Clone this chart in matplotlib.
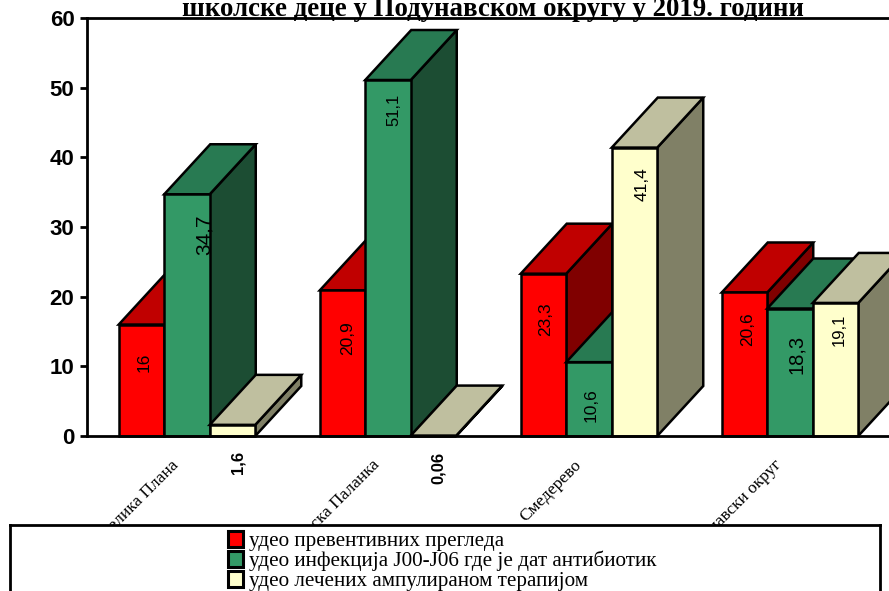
import matplotlib
matplotlib.use("Agg")
import matplotlib.pyplot as plt
from matplotlib.patches import Polygon, Patch
from matplotlib.transforms import ScaledTranslation

categories = ["Велика Плана", "Смедеревска Паланка", "Смедерево", "Подунавски округ"]
series_names = ["удео превентивних прегледа",
                "удео инфекција J00-J06 где је дат антибиотик",
                "удео лечених ампулираном терапијом"]
preventive = [16, 20.9, 23.3, 20.6]
infection = [34.7, 51.1, 10.6, 18.3]
ampoule = [1.6, 0.06, 41.4, 19.1]
value_labels = [["16", "20,9", "23,3", "20,6"],
                ["34,7", "51,1", "10,6", "18,3"],
                ["1,6", "0,06", "41,4", "19,1"]]
yticks = [0, 10, 20, 30, 40, 50, 60]
title = "школске деце у Подунавском округу у 2019. години"

W, H = 889, 591
FRONT = ["#ff0000", "#339966", "#ffffcc"]
TOP = ["#c00000", "#287a52", "#bfbf9f"]
SIDE = ["#800000", "#1c4d33", "#808066"]
LABEL_DROP = [[38, 48, 46, 37], [40, 30, 43, 46], [26, 32, 37, 27]]
LABEL_SHIFT = [[3, 5, 2, 3], [17, 6, 2, 7], [5, 4, 8, 4]]
LABEL_SIZE = [[12.5, 12.5, 12.5, 12.5], [15, 12, 12.5, 14.5], [12, 12, 12.5, 12]]

fig = plt.figure(figsize=(W / 100, H / 100), dpi=100, facecolor="white")
ax = fig.add_axes([87 / W, 1 - 436 / H, (W - 87) / W, (436 - 18) / H])
gp = 201.0
ax.set_xlim((87 - 187) / gp, (889 - 187) / gp)
ax.set_ylim(0, 60)
ppy = 418 / 60
bw, dx, dy = 45.5 / gp, 46 / gp, 50 / ppy

series = [preventive, infection, ampoule]
for g in range(len(categories)):
    for s, vals in enumerate(series):
        v = vals[g]
        x0 = g + (s - 1.5) * bw
        x1 = x0 + bw
        st = dict(edgecolor="black", linewidth=1.8, joinstyle="miter", clip_on=False, zorder=3)
        ax.add_patch(Polygon([(x1, 0), (x1 + dx, dy), (x1 + dx, v + dy), (x1, v)], facecolor=SIDE[s], **st))
        ax.add_patch(Polygon([(x0, v), (x0 + dx, v + dy), (x1 + dx, v + dy), (x1, v)], facecolor=TOP[s], **st))
        ax.add_patch(Polygon([(x0, 0), (x1, 0), (x1, v), (x0, v)], facecolor=FRONT[s], **st))
        is_small = s == 2 and g < 2
        ax.annotate(value_labels[s][g], (x0 + bw / 2 + (bw if is_small else 0), 0 if is_small else v),
                    xytext=(LABEL_SHIFT[s][g] - (45 if is_small else 0), -LABEL_DROP[s][g]),
                    textcoords="offset pixels",
                    rotation=90, ha="center", va="center", family="Liberation Sans",
                    fontsize=LABEL_SIZE[s][g], fontweight="bold" if is_small else "normal",
                    annotation_clip=False, zorder=4)

for name in ["top", "left", "bottom"]:
    ax.spines[name].set_linewidth(2)
ax.spines["right"].set_visible(False)
ax.set_axisbelow(False)
ax.set_yticks(yticks)
ax.set_yticklabels([str(t) for t in yticks], family="Liberation Sans", fontsize=16, fontweight="bold")
ax.tick_params(axis="y", length=5, width=2, pad=4)
ax.set_xticks(range(len(categories)))
ax.set_xticklabels(categories, rotation=45, ha="right", va="top", rotation_mode="anchor",
                   family="Liberation Serif", fontsize=12.5)
ax.tick_params(axis="x", length=0, pad=15)
shift = ScaledTranslation(-16 / 100, 0, fig.dpi_scale_trans)
for lab in ax.get_xticklabels():
    lab.set_transform(lab.get_transform() + shift)

ax.spines["bottom"].set_zorder(6)
fig.text(493 / W, 1 - 16 / H, title, ha="center", va="baseline", family="Liberation Serif",
         fontsize=19.4, fontweight="bold", zorder=10)

box = fig.add_axes([10 / W, -0.02, (880 - 10) / W, 1 - 525 / H + 0.02], zorder=5, facecolor="white")
box.set_xticks([])
box.set_yticks([])
for sp in box.spines.values():
    sp.set_linewidth(2)
handles = [Patch(facecolor=c, edgecolor="black", linewidth=2.2) for c in FRONT]
box.legend(handles, series_names, loc="upper left", bbox_to_anchor=((226 - 10) / 870, 0.955), frameon=False,
           prop={"family": "Liberation Serif", "size": 15.2}, handlelength=0.72, handleheight=0.8,
           handletextpad=0.27, labelspacing=-0.02, borderpad=0.1, borderaxespad=0)

fig.savefig("out.png", dpi=100)
